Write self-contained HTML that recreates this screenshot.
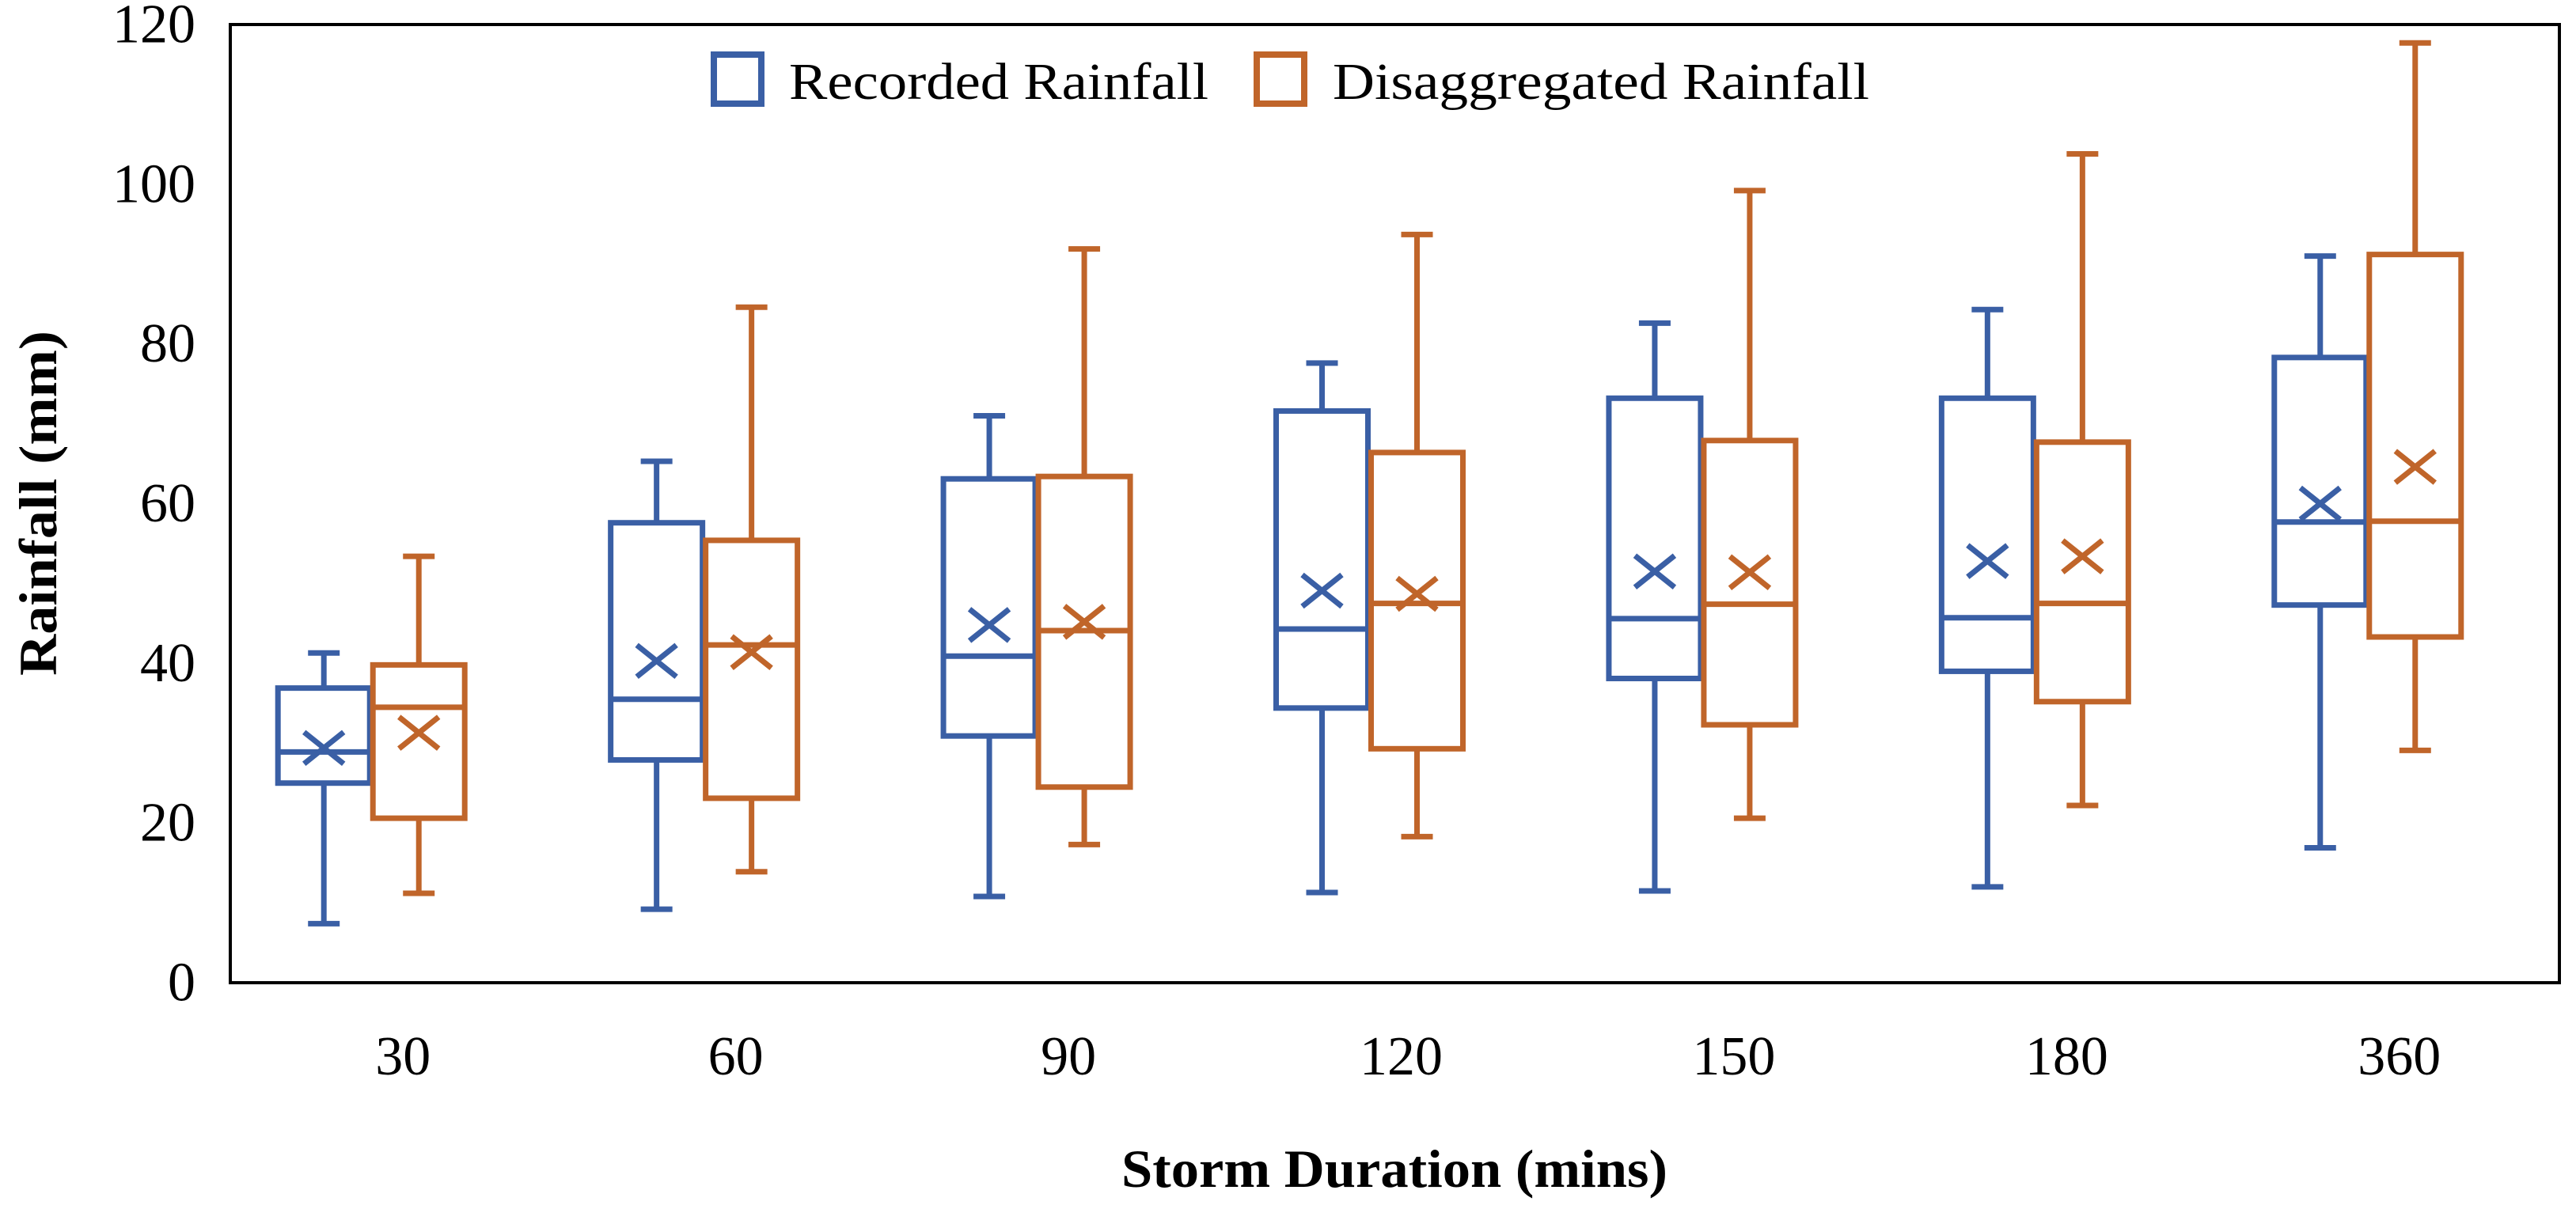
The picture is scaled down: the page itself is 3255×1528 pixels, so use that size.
<!DOCTYPE html>
<html><head><meta charset="utf-8"><style>
html,body{margin:0;padding:0;background:#fff;}
svg{display:block;}
text{font-family:"Liberation Serif",serif;fill:#000;}
</style></head><body>
<svg id="chart" width="3255" height="1528" viewBox="0 0 3255 1528">
<rect x="0" y="0" width="3255" height="1528" fill="#fff"/>
<g id="marks"></g>
<rect x="291" y="31" width="2943" height="1211" fill="none" stroke="#000" stroke-width="4"/>
<g id="yticks"></g>
<g id="xticks"></g>
<text x="48" y="636" font-size="68" font-weight="bold" text-anchor="middle" textLength="436" lengthAdjust="spacingAndGlyphs" transform="rotate(-90 48 636)" dominant-baseline="central">Rainfall (mm)</text>
<text x="1762" y="1500" font-size="68" font-weight="bold" text-anchor="middle" textLength="690" lengthAdjust="spacingAndGlyphs">Storm Duration (mins)</text>
<g>
<rect x="902" y="69" width="60" height="62" fill="none" stroke="#3A5FA5" stroke-width="8"/>
<text x="997" y="125" font-size="66" textLength="530" lengthAdjust="spacingAndGlyphs">Recorded Rainfall</text>
<rect x="1588" y="69" width="60" height="62" fill="none" stroke="#C0652A" stroke-width="8"/>
<text x="1684" y="125" font-size="66" textLength="678" lengthAdjust="spacingAndGlyphs">Disaggregated Rainfall</text>
</g>
</svg>
<script>
const categories = ["30","60","90","120","150","180","360"];
const recMin = [7.4, 9.2, 10.8, 11.3, 11.5, 12.0, 16.9];
const recQ1 = [25.0, 27.9, 30.9, 34.4, 38.1, 39.0, 47.3];
const recMed = [28.9, 35.5, 40.9, 44.3, 45.6, 45.7, 57.7];
const recQ3 = [36.9, 57.6, 63.1, 71.6, 73.2, 73.2, 78.3];
const recMax = [41.3, 65.3, 71.0, 77.6, 82.6, 84.3, 91.0];
const recMean = [29.4, 40.3, 44.8, 49.1, 51.5, 52.8, 60.0];
const disMin = [11.2, 13.9, 17.3, 18.3, 20.6, 22.2, 29.1];
const disQ1 = [20.6, 23.1, 24.5, 29.3, 32.3, 35.2, 43.3];
const disMed = [34.5, 42.3, 44.1, 47.5, 47.4, 47.5, 57.8];
const disQ3 = [39.8, 55.4, 63.4, 66.4, 67.9, 67.7, 91.2];
const disMax = [53.4, 84.6, 91.9, 93.7, 99.2, 103.8, 117.7];
const disMean = [31.3, 41.4, 45.2, 48.7, 51.4, 53.4, 64.6];
const yTicks = [0, 20, 40, 60, 80, 100, 120];

const NS = "http://www.w3.org/2000/svg";
const L = 291, R = 3234, T = 31, B = 1242, YMAX = 120;
function yScale(v){ return B - (v / YMAX) * (B - T); }
function xCenter(i){ return L + (R - L) / categories.length * (i + 0.5); }
function mk(tag, attrs, parent){
  const e = document.createElementNS(NS, tag);
  for (const k in attrs) e.setAttribute(k, attrs[k]);
  parent.appendChild(e);
  return e;
}
const marks = document.getElementById('marks');
const yt = document.getElementById('yticks');
const xt = document.getElementById('xticks');

yTicks.forEach(v => {
  const t = mk('text', {x: 247, y: yScale(v), 'font-size': 70, 'text-anchor': 'end', 'dominant-baseline': 'central'}, yt);
  
  
  t.textContent = v;
});
categories.forEach((c, i) => {
  const t = mk('text', {x: xCenter(i) + 8, y: 1358, 'font-size': 70, 'text-anchor': 'middle'}, xt);
  
  
  t.textContent = c;
});

function drawBox(cx, mn, q1, md, q3, mx, mean, color, name){
  const g = mk('g', {stroke: color, 'stroke-width': 7, fill: 'none'}, marks);
  
  
  const hw = 58, cap = 20, xm = 25, ym = 20;
  mk('line', {x1: cx, x2: cx, y1: yScale(mx), y2: yScale(q3)}, g);
  mk('line', {x1: cx, x2: cx, y1: yScale(q1), y2: yScale(mn)}, g);
  mk('line', {x1: cx - cap, x2: cx + cap, y1: yScale(mx), y2: yScale(mx)}, g);
  mk('line', {x1: cx - cap, x2: cx + cap, y1: yScale(mn), y2: yScale(mn)}, g);
  mk('rect', {x: cx - hw, y: yScale(q3), width: hw * 2, height: yScale(q1) - yScale(q3), fill: '#fff'}, g);
  mk('line', {x1: cx - hw, x2: cx + hw, y1: yScale(md), y2: yScale(md)}, g);
  const my = yScale(mean);
  mk('path', {d: `M${cx-xm},${my-ym}L${cx+xm},${my+ym}M${cx+xm},${my-ym}L${cx-xm},${my+ym}`}, g);
}
categories.forEach((c, i) => {
  const cx = xCenter(i);
  drawBox(cx - 92, recMin[i], recQ1[i], recMed[i], recQ3[i], recMax[i], recMean[i], '#3A5FA5', 'box-recorded-' + c);
  drawBox(cx + 28, disMin[i], disQ1[i], disMed[i], disQ3[i], disMax[i], disMean[i], '#C0652A', 'box-disaggregated-' + c);
});
</script>
</body></html>
